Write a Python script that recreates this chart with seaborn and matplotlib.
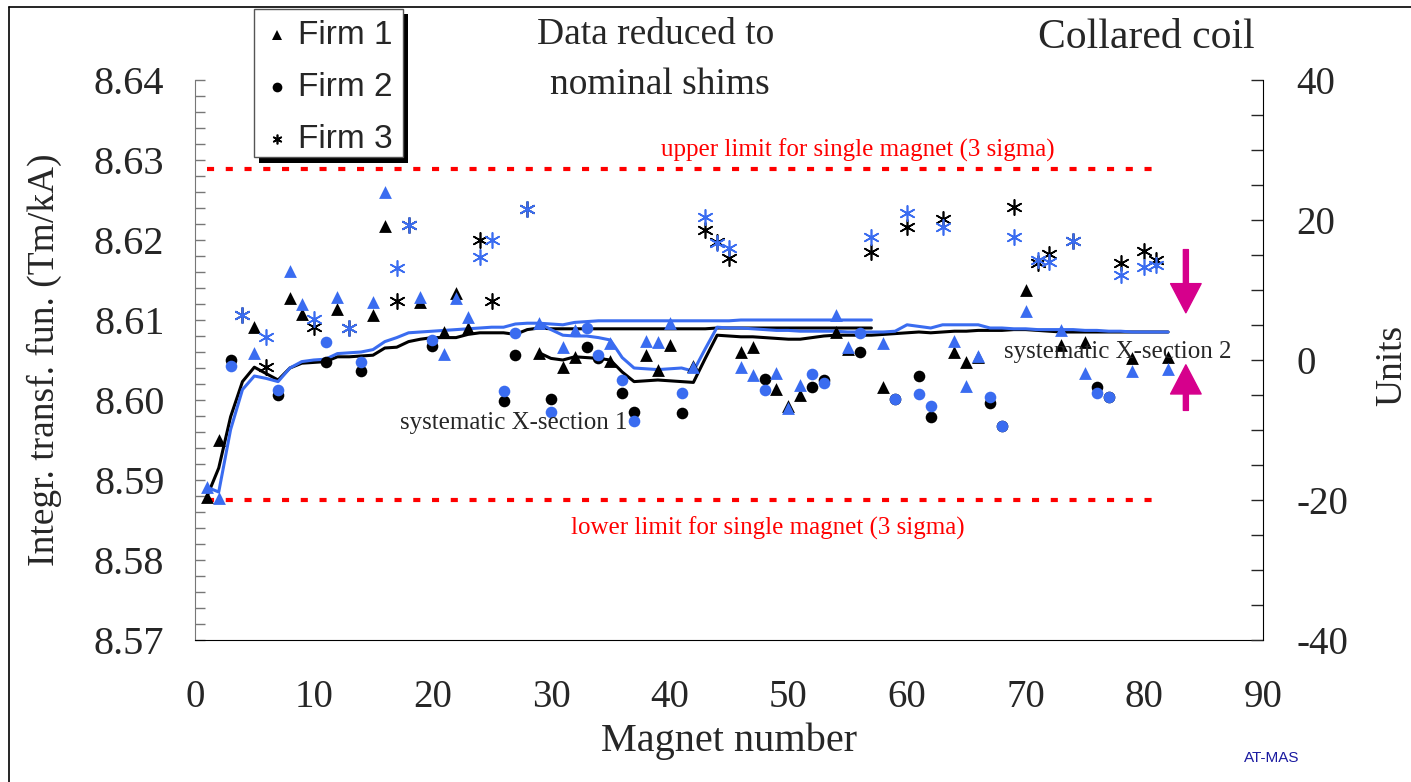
"""Integrated transfer function per magnet, collared coil, three firms."""

import matplotlib

matplotlib.use("Agg")
import matplotlib.pyplot as plt
import pandas as pd
import seaborn as sns
from matplotlib.lines import Line2D
from matplotlib.ticker import FormatStrFormatter, MultipleLocator

# ---------------------------------------------------------------------------
# Data
# ---------------------------------------------------------------------------

MAGNETS = list(range(1, 83))
FIRM = [1, 1, 2, 3, 1, 3, 2, 1, 1, 3,
        2, 1, 3, 2, 1, 1, 3, 3, 1, 2,
        1, 1, 1, 3, 3, 2, 2, 3, 1, 2,
        1, 1, 2, 2, 1, 2, 2, 1, 1, 1,
        2, 1, 3, 3, 3, 1, 1, 2, 1, 1,
        1, 2, 2, 1, 1, 2, 3, 1, 2, 3,
        2, 2, 3, 1, 1, 1, 2, 2, 3, 1,
        3, 3, 1, 3, 1, 2, 2, 3, 1, 3,
        3, 1]

# aperture 1 (black markers)
AP1 = [8.5879, 8.5950, 8.6050, 8.6106, 8.6091, 8.6041, 8.6006, 8.6127, 8.6107, 8.6091,
       8.6048, 8.6114, 8.6090, 8.6036, 8.6106, 8.6218, 8.6124, 8.6219, 8.6122, 8.6067,
       8.6085, 8.6134, 8.6090, 8.6200, 8.6124, 8.5999, 8.6056, 8.6239, 8.6059, 8.6001,
       8.6041, 8.6054, 8.6066, 8.6053, 8.6049, 8.6009, 8.5985, 8.6056, 8.6038, 8.6069,
       8.5984, 8.6043, 8.6212, 8.6197, 8.6177, 8.6060, 8.6066, 8.6026, 8.6014, 8.5993,
       8.6006, 8.6016, 8.6025, 8.6085, 8.6064, 8.6060, 8.6185, 8.6016, 8.6001, 8.6216,
       8.6030, 8.5979, 8.6226, 8.6060, 8.6048, 8.6054, 8.5996, 8.5968, 8.6241, 8.6138,
       8.6171, 8.6183, 8.6069, 8.6199, 8.6073, 8.6016, 8.6004, 8.6171, 8.6052, 8.6186,
       8.6175, 8.6054]

# aperture 2 (blue markers)
AP2 = [8.5891, 8.5877, 8.6043, 8.6106, 8.6059, 8.6079, 8.6012, 8.6161, 8.6120, 8.6101,
       8.6073, 8.6129, 8.6090, 8.6048, 8.6122, 8.6260, 8.6165, 8.6219, 8.6129, 8.6075,
       8.6058, 8.6127, 8.6104, 8.6179, 8.6200, 8.6011, 8.6084, 8.6239, 8.6096, 8.5985,
       8.6066, 8.6088, 8.6090, 8.6056, 8.6071, 8.6025, 8.5974, 8.6074, 8.6073, 8.6096,
       8.6009, 8.6041, 8.6229, 8.6196, 8.6190, 8.6041, 8.6031, 8.6012, 8.6034, 8.5990,
       8.6019, 8.6033, 8.6021, 8.6106, 8.6066, 8.6084, 8.6204, 8.6071, 8.6001, 8.6234,
       8.6007, 8.5993, 8.6216, 8.6074, 8.6017, 8.6055, 8.6004, 8.5968, 8.6204, 8.6111,
       8.6175, 8.6173, 8.6088, 8.6199, 8.6034, 8.6009, 8.6004, 8.6156, 8.6036, 8.6166,
       8.6169, 8.6039]

# running systematic, X-section 1
LINE_A_X = list(range(1, 58))
LINE_A_BLACK = [8.5879, 8.5915, 8.5979, 8.6023, 8.6041, 8.6033, 8.6025, 8.6040, 8.6046, 8.6047,
                8.6048, 8.6054, 8.6054, 8.6055, 8.6056, 8.6065, 8.6066, 8.6073, 8.6076, 8.6078,
                8.6078, 8.6078, 8.6082, 8.6084, 8.6084, 8.6084, 8.6082, 8.6088, 8.6090, 8.6089,
                8.6089, 8.6089, 8.6089, 8.6089, 8.6089, 8.6089, 8.6089, 8.6089, 8.6089, 8.6089,
                8.6089, 8.6089, 8.6089, 8.6090, 8.6090, 8.6090, 8.6090, 8.6090, 8.6090, 8.6090,
                8.6090, 8.6090, 8.6090, 8.6090, 8.6090, 8.6090, 8.6090]
LINE_A_BLUE = [8.5891, 8.5885, 8.5963, 8.6013, 8.6030, 8.6027, 8.6023, 8.6040, 8.6048, 8.6050,
               8.6051, 8.6058, 8.6059, 8.6060, 8.6063, 8.6073, 8.6078, 8.6084, 8.6085, 8.6086,
               8.6087, 8.6088, 8.6089, 8.6090, 8.6091, 8.6091, 8.6095, 8.6096, 8.6096, 8.6095,
               8.6094, 8.6097, 8.6098, 8.6099, 8.6099, 8.6099, 8.6099, 8.6099, 8.6099, 8.6099,
               8.6099, 8.6099, 8.6099, 8.6099, 8.6099, 8.6100, 8.6100, 8.6100, 8.6100, 8.6100,
               8.6100, 8.6100, 8.6100, 8.6100, 8.6100, 8.6100, 8.6100]

# running systematic, X-section 2
LINE_B_X = list(range(29, 83))
LINE_B_BLACK = [8.6059, 8.6052, 8.6050, 8.6054, 8.6053, 8.6052, 8.6050, 8.6035, 8.6023, 8.6024,
                8.6025, 8.6024, 8.6023, 8.6022, 8.6052, 8.6081, 8.6080, 8.6079, 8.6079, 8.6078,
                8.6077, 8.6076, 8.6076, 8.6078, 8.6080, 8.6081, 8.6081, 8.6081, 8.6081, 8.6082,
                8.6083, 8.6084, 8.6085, 8.6084, 8.6085, 8.6086, 8.6086, 8.6087, 8.6087, 8.6087,
                8.6088, 8.6088, 8.6087, 8.6086, 8.6085, 8.6085, 8.6085, 8.6085, 8.6085, 8.6085,
                8.6085, 8.6085, 8.6085, 8.6085]
LINE_B_BLUE = [8.6096, 8.6088, 8.6081, 8.6080, 8.6080, 8.6078, 8.6075, 8.6053, 8.6040, 8.6039,
               8.6038, 8.6039, 8.6040, 8.6036, 8.6064, 8.6091, 8.6090, 8.6090, 8.6089, 8.6088,
               8.6087, 8.6087, 8.6086, 8.6086, 8.6086, 8.6086, 8.6085, 8.6085, 8.6085, 8.6085,
               8.6086, 8.6094, 8.6092, 8.6090, 8.6094, 8.6094, 8.6094, 8.6094, 8.6090, 8.6090,
               8.6089, 8.6089, 8.6088, 8.6088, 8.6088, 8.6088, 8.6087, 8.6087, 8.6086, 8.6086,
               8.6085, 8.6085, 8.6085, 8.6085]

LIMIT_X = [1, 81.3]
UPPER_LIMIT = 8.6289
LOWER_LIMIT = 8.5875

FIRM_LABELS = ["Firm 1", "Firm 2", "Firm 3"]

# ---------------------------------------------------------------------------
# Style
# ---------------------------------------------------------------------------

sns.set_style("white")
plt.rcParams["font.family"] = ["Liberation Serif", "DejaVu Serif"]
plt.rcParams["axes.unicode_minus"] = False

BLUE = "#3a6cf0"
RED = "#ff0000"
MAGENTA = "#d6008c"
MARKERS = {1: "^", 2: "o", 3: (6, 2, 0)}
SIZES = {1: 85, 2: 70, 3: 120}
W, H = 1411, 782


def fx(px):
    return px / W


def fy(py):
    return 1 - py / H


points = pd.DataFrame({
    "magnet": MAGNETS * 2,
    "firm": FIRM * 2,
    "aperture": ["ap1"] * len(MAGNETS) + ["ap2"] * len(MAGNETS),
    "value": AP1 + AP2,
})

fig = plt.figure(figsize=(W / 100, H / 100), dpi=100)
ax = fig.add_axes([fx(195), fy(640), fx(1263) - fx(195), fy(80) - fy(640)])

# limit lines
for level in (UPPER_LIMIT, LOWER_LIMIT):
    ax.plot(LIMIT_X, [level, level], color=RED, lw=3, dashes=(1.7, 2.8),
            solid_capstyle="butt", zorder=1)

# systematic lines
for xs, ys, colour in [(LINE_A_X, LINE_A_BLACK, "black"), (LINE_A_X, LINE_A_BLUE, BLUE),
                       (LINE_B_X, LINE_B_BLACK, "black"), (LINE_B_X, LINE_B_BLUE, BLUE)]:
    sns.lineplot(x=xs, y=ys, color=colour, lw=2.2, ax=ax, errorbar=None, zorder=2)

# markers: black aperture first, blue on top
for aperture, colour in [("ap1", "black"), ("ap2", BLUE)]:
    for firm in (1, 2, 3):
        sub = points[(points["aperture"] == aperture) & (points["firm"] == firm)]
        sns.scatterplot(data=sub, x="magnet", y="value", marker=MARKERS[firm],
                        s=SIZES[firm], color=colour, edgecolor=colour,
                        linewidth=1.2 if firm == 3 else 0, legend=False, ax=ax,
                        zorder=3)

ax.set_xlim(0, 90)
ax.set_ylim(8.57, 8.64)
ax.xaxis.set_major_locator(MultipleLocator(10))
ax.xaxis.set_minor_locator(MultipleLocator(1))
ax.yaxis.set_major_locator(MultipleLocator(0.01))
ax.yaxis.set_minor_locator(MultipleLocator(0.002))
ax.yaxis.set_major_formatter(FormatStrFormatter("%.2f"))
ax.tick_params(axis="x", which="major", direction="in", length=8.5, width=1,
               labelsize=28, pad=28)
ax.tick_params(axis="x", which="minor", direction="in", length=5, width=1)
ax.tick_params(axis="y", which="both", direction="in", length=7, width=1,
               labelsize=29, pad=22, color="#777777")
ax.tick_params(top=False, right=False, which="both")
for side in ("top", "right"):
    ax.spines[side].set_visible(False)
ax.spines["left"].set_color("#777777")
ax.spines["bottom"].set_color("black")
ax.set_xlabel("Magnet number", fontsize=29)
ax.xaxis.set_label_coords(0.5, -0.148)
ax.set_ylabel("Integr. transf. fun. (Tm/kA)", fontsize=27)
ax.yaxis.set_label_coords(-0.125, 0.5)

# right axis in units
ax2 = ax.twinx()
ax2.set_ylim(-40, 40)
ax2.yaxis.set_major_locator(MultipleLocator(20))
ax2.yaxis.set_minor_locator(MultipleLocator(5))
ax2.tick_params(axis="y", which="both", direction="in", length=8.5, width=1,
                labelsize=28, pad=24)
for side in ("top", "left", "bottom"):
    ax2.spines[side].set_visible(False)
ax2.spines["right"].set_color("black")
ax2.set_ylabel("Units", fontsize=27)
ax2.yaxis.set_label_coords(1.105, 0.49)
ax2.grid(False)

# arrows
ax.annotate("", xy=(83.5, 8.6109), xytext=(83.5, 8.6188),
            arrowprops=dict(facecolor=MAGENTA, edgecolor=MAGENTA, width=3.6,
                            headwidth=22, headlength=21))
ax.annotate("", xy=(83.5, 8.6044), xytext=(83.5, 8.5987),
            arrowprops=dict(facecolor=MAGENTA, edgecolor=MAGENTA, width=3.6,
                            headwidth=22, headlength=21))

# annotations
fig.text(fx(858), fy(150), "upper limit for single magnet (3 sigma)", color=RED,
         fontsize=18, ha="center", va="center")
fig.text(fx(768), fy(528), "lower limit for single magnet (3 sigma)", color=RED,
         fontsize=18, ha="center", va="center")
fig.text(fx(514), fy(423), "systematic X-section 1", fontsize=18, ha="center",
         va="center")
fig.text(fx(1118), fy(352), "systematic X-section 2", fontsize=18, ha="center",
         va="center")
fig.text(fx(656), fy(35), "Data reduced to", fontsize=27, ha="center", va="center")
fig.text(fx(660), fy(85), "nominal shims", fontsize=27, ha="center", va="center")
fig.text(fx(1146), fy(38), "Collared coil", fontsize=30, ha="center", va="center")
fig.text(fx(1272), fy(758), "AT-MAS", fontsize=11, color="#1a1aa0", ha="center",
         va="center", family=["Liberation Sans", "DejaVu Sans"])

# legend box with shadow
fig.add_artist(plt.Rectangle((fx(259), fy(163)), fx(408) - fx(259), fy(14) - fy(163),
                             transform=fig.transFigure, facecolor="black",
                             edgecolor="none"))
fig.add_artist(plt.Rectangle((fx(254), fy(157)), fx(403) - fx(254), fy(9) - fy(157),
                             transform=fig.transFigure, facecolor="white",
                             edgecolor="#555555", lw=1))
for i, firm in enumerate((1, 2, 3)):
    y = fy(35 + 52 * i)
    fig.add_artist(Line2D([fx(277)], [y], marker=MARKERS[firm], markersize=7,
                          color="black", markeredgewidth=1.2 if firm == 3 else 0,
                          transform=fig.transFigure))
    fig.text(fx(298), y, FIRM_LABELS[i], fontsize=24, ha="left", va="center",
             family=["Liberation Sans", "DejaVu Sans"])

# frame of the slide
fig.add_artist(Line2D([fx(9), fx(9)], [fy(7), 0], color="black", lw=1.2,
                      transform=fig.transFigure))
fig.add_artist(Line2D([fx(9), 1], [fy(7), fy(7)], color="black", lw=1.2,
                      transform=fig.transFigure))

fig.savefig("out.png", dpi=100)
